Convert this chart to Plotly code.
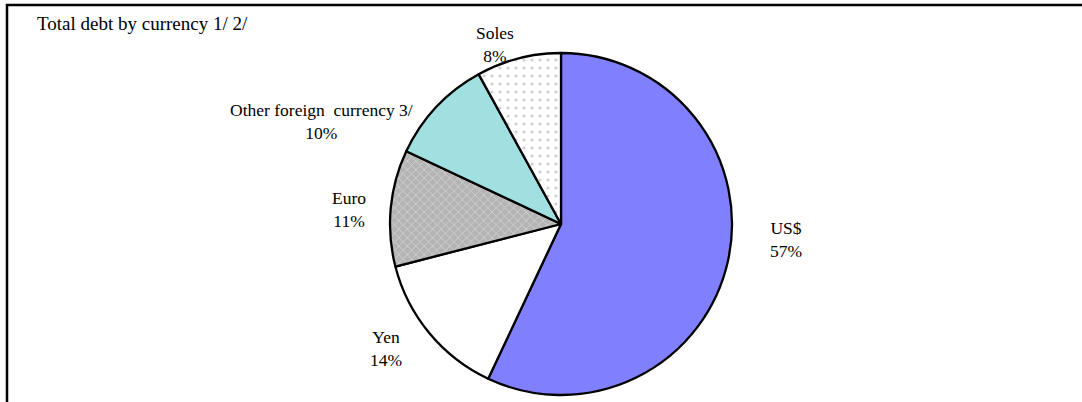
import plotly.graph_objects as go

# Share of total debt by currency (percent)
currencies = ["US$", "Yen", "Euro", "Other foreign  currency 3/", "Soles"]
shares = [57, 14, 11, 10, 8]

fill_colors = ["#8080ff", "#ffffff", "#b4b4b4", "#a0e0e0", "#ffffff"]
pattern_shapes = ["", "", "x", "", "."]
pattern_fg = ["#8080ff", "#ffffff", "#f4f4f4", "#a0e0e0", "#a0a0a0"]
pattern_size = [6, 6, 6, 6, 8]
pattern_solidity = [0.25, 0.25, 0.25, 0.25, 0.12]

# Label centres in pixels (x, y from top)
label_px = [(786, 240), (386, 348), (349, 209), (321, 122), (495, 45)]

W, H = 1082, 402
cx, cy, r = 561, 224, 171
FONT = "Liberation Serif"

fig = go.Figure(go.Pie(
    labels=currencies,
    values=shares,
    sort=False,
    direction="clockwise",
    rotation=0,
    textinfo="none",
    hoverinfo="label+percent",
    marker=dict(
        colors=fill_colors,
        line=dict(color="#000000", width=2.3),
        pattern=dict(shape=pattern_shapes, fgcolor=pattern_fg,
                     bgcolor=fill_colors, size=pattern_size,
                     solidity=pattern_solidity, fillmode="overlay"),
    ),
    domain=dict(x=[(cx - r) / W, (cx + r) / W],
                y=[(H - cy - r) / H, (H - cy + r) / H]),
    showlegend=False,
))

# Slice labels: name and share
for name, val, (px, py) in zip(currencies, shares, label_px):
    fig.add_annotation(text=f"{name}<br>{val}%", xref="paper", yref="paper",
                       x=px / W, y=(H - py) / H, xanchor="center", yanchor="middle",
                       align="center", showarrow=False,
                       font=dict(family=FONT, size=17.5, color="#000000"))

# Chart frame (runs off the right and bottom edges)
fig.add_shape(type="rect", xref="paper", yref="paper",
              x0=7 / W, x1=1.02, y0=-0.02, y1=(H - 5) / H,
              line=dict(color="#000000", width=2.5), fillcolor="rgba(0,0,0,0)")

fig.add_annotation(text="Total debt by currency 1/ 2/", xref="paper", yref="paper",
                   x=35 / W, y=(H - 23) / H, xanchor="left", yanchor="middle",
                   showarrow=False,
                   font=dict(family=FONT, size=19, color="#000000"))

fig.update_layout(width=W, height=H, margin=dict(l=0, r=0, t=0, b=0),
                  paper_bgcolor="#ffffff", plot_bgcolor="#ffffff")

fig.write_html("out.html")
